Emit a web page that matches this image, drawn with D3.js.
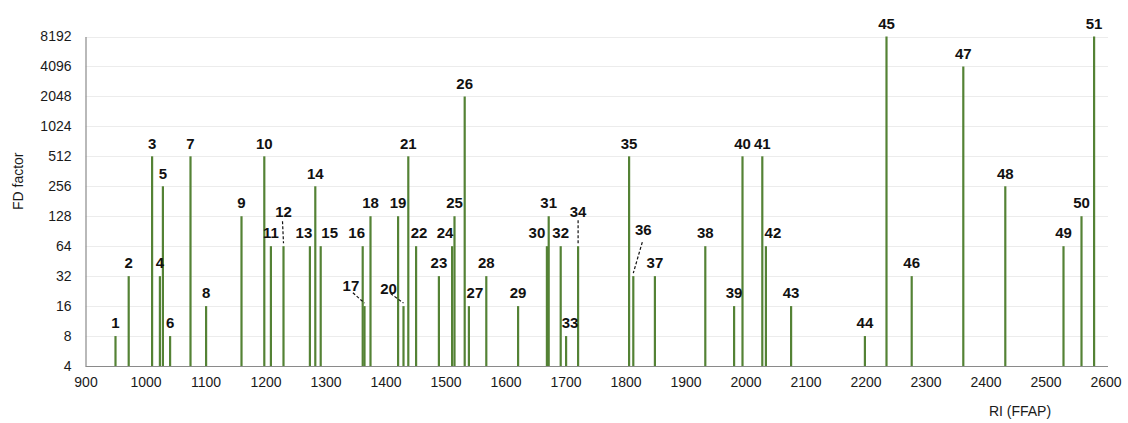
<!DOCTYPE html>
<html>
<head>
<meta charset="utf-8">
<script src="https://cdn.jsdelivr.net/npm/d3@7"></script>
<style>
  html, body { margin: 0; padding: 0; background: #fff; }
  svg { display: block; font-family: "Liberation Sans", Arial, sans-serif; }
</style>
</head>
<body>
<svg id="chart" width="1128" height="423"></svg>
<script>
// Peak numbers, retention indices (FFAP) and flavour dilution factors
const peakIds = d3.range(1, 52);
const riValues = [
  950, 972, 1011, 1024, 1029, 1041, 1075, 1101, 1160, 1198,
  1209, 1230, 1274, 1283, 1292, 1362, 1365, 1375, 1421, 1430,
  1438, 1451, 1489, 1511, 1515, 1532, 1539, 1568, 1621, 1669,
  1672, 1692, 1701, 1721, 1806, 1813, 1849, 1933, 1981, 1995,
  2028, 2034, 2076, 2199, 2235, 2277, 2363, 2433, 2530, 2560,
  2581
];
const fdValues = [
  8, 32, 512, 32, 256, 8, 512, 16, 128, 512,
  64, 64, 64, 256, 64, 64, 16, 128, 128, 16,
  512, 64, 32, 64, 128, 2048, 16, 32, 16, 64,
  128, 64, 8, 64, 512, 32, 32, 64, 16, 512,
  512, 64, 16, 8, 8192, 32, 4096, 256, 64, 128,
  8192
];
const xTicks = d3.range(900, 2601, 100);
const yTicks = [4, 8, 16, 32, 64, 128, 256, 512, 1024, 2048, 4096, 8192];

// Label nudges for crowded peaks: [peak, dx, dy]
const labelShift = [
  [12, 0, -21], [13, -6, 0], [15, 9, 0], [16, -6, 0], [17, -13.6, -7.3],
  [20, -15, -4.7], [22, 3, 0], [24, -7, 0], [27, 6, 0], [30, -10, 0],
  [33, 4, 0], [34, 0, -21], [36, 10, -33], [42, 7, 0]
];
// Dashed leaders from a label to its peak: [peak, startDx, startDy] from label centre
const leaders = [
  [12, -1, 9], [17, 2, 7], [20, 2, 5], [34, 0, 8], [36, -1, 12]
];

const svg = d3.select("#chart");
const margin = { left: 85.5, right: 1105.5, top: 36.5, bottom: 366 };

const x = d3.scaleLinear().domain([900, 2600]).range([margin.left, margin.right]);
const y = d3.scaleLog().base(2).domain([4, 8192]).range([margin.bottom, margin.top]);

const barColor = "#548235";
const textColor = "#1a1a1a";

// Horizontal gridlines
svg.append("g")
  .selectAll("line")
  .data(yTicks.slice(1))
  .join("line")
  .attr("x1", margin.left)
  .attr("x2", 1108)
  .attr("y1", d => Math.round(y(d)) + 0.5)
  .attr("y2", d => Math.round(y(d)) + 0.5)
  .attr("stroke", "#ececec")
  .attr("stroke-width", 1);

// Y axis
const yAxis = svg.append("g")
  .attr("transform", `translate(${margin.left},0)`)
  .call(d3.axisLeft(y).tickValues(yTicks).tickFormat(d3.format("d")).tickSize(0).tickPadding(14));
yAxis.select(".domain").attr("stroke", "#8a8a8a").attr("stroke-width", 1.2);
yAxis.selectAll("text")
  .attr("fill", textColor)
  .style("font-size", "14px")
  .style("font-family", "'Liberation Sans', Arial, sans-serif");

// Peaks
const peaks = peakIds.map((id, i) => ({ id, ri: riValues[i], fd: fdValues[i] }));
svg.append("g")
  .selectAll("line")
  .data(peaks)
  .join("line")
  .attr("x1", d => x(d.ri))
  .attr("x2", d => x(d.ri))
  .attr("y1", y(4))
  .attr("y2", d => y(d.fd))
  .attr("stroke", barColor)
  .attr("stroke-width", 2.2);

// X axis
const xAxis = svg.append("g")
  .attr("transform", `translate(0,${margin.bottom})`)
  .call(d3.axisBottom(x).tickValues(xTicks).tickFormat(d3.format("d")).tickSize(0).tickPadding(11));
xAxis.select(".domain").attr("stroke", "#8a8a8a").attr("stroke-width", 1.2)
  .attr("d", `M${margin.left},0.5H1108`);
xAxis.selectAll("text")
  .attr("fill", textColor)
  .style("font-size", "14px")
  .style("font-family", "'Liberation Sans', Arial, sans-serif");

// Peak number labels
const shiftMap = new Map(labelShift.map(([id, dx, dy]) => [id, { dx, dy }]));
const labelPos = d => {
  const s = shiftMap.get(d.id) || { dx: 0, dy: 0 };
  return { cx: x(d.ri) + s.dx, cy: y(d.fd) - 13 + s.dy };
};
svg.append("g")
  .selectAll("text")
  .data(peaks)
  .join("text")
  .attr("x", d => labelPos(d).cx)
  .attr("y", d => labelPos(d).cy)
  .attr("dy", "0.35em")
  .attr("text-anchor", "middle")
  .attr("fill", "#111")
  .style("font-size", "15px")
  .style("font-weight", "bold")
  .text(d => d.id);

// Dashed leaders
const peakById = new Map(peaks.map(p => [p.id, p]));
svg.append("g")
  .selectAll("line")
  .data(leaders)
  .join("line")
  .attr("x1", ([id, sx]) => labelPos(peakById.get(id)).cx + sx)
  .attr("y1", ([id, , sy]) => labelPos(peakById.get(id)).cy + sy)
  .attr("x2", ([id]) => x(peakById.get(id).ri))
  .attr("y2", ([id]) => y(peakById.get(id).fd) - 3)
  .attr("stroke", "#111")
  .attr("stroke-width", 1.2)
  .attr("stroke-dasharray", "3,2");

// Axis titles
svg.append("text")
  .attr("transform", `translate(18,${(margin.top + margin.bottom) / 2 - 20}) rotate(-90)`)
  .attr("text-anchor", "middle")
  .attr("dy", "0.35em")
  .attr("fill", textColor)
  .style("font-size", "14px")
  .text("FD factor");

svg.append("text")
  .attr("x", 1020)
  .attr("y", 411)
  .attr("text-anchor", "middle")
  .attr("dy", "0.35em")
  .attr("fill", textColor)
  .style("font-size", "14px")
  .text("RI (FFAP)");
</script>
</body>
</html>
